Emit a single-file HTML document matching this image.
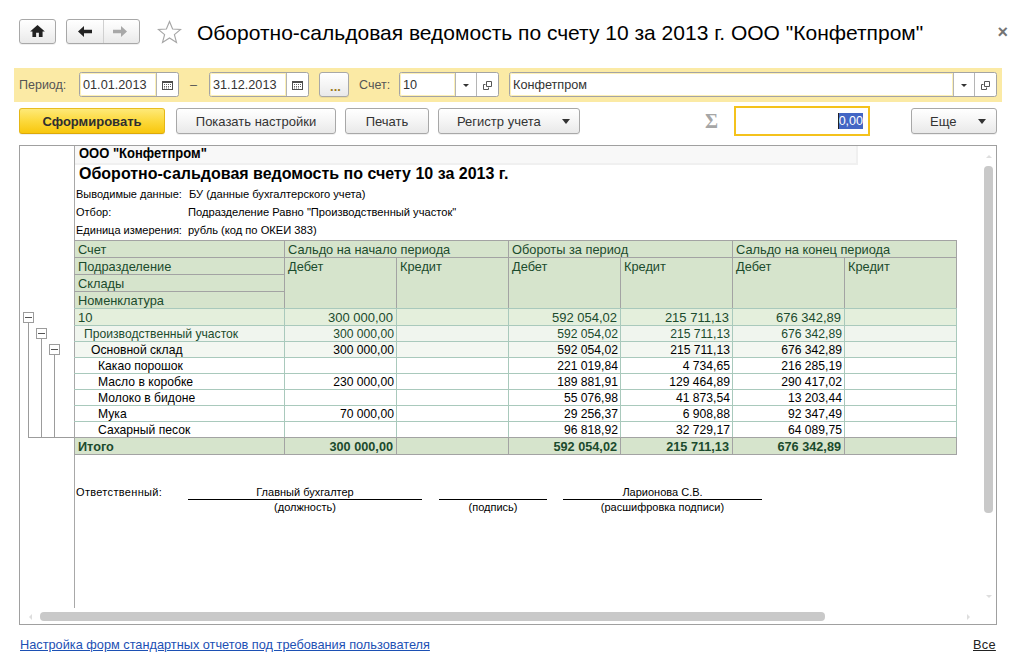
<!DOCTYPE html>
<html lang="ru">
<head>
<meta charset="utf-8">
<title>Оборотно-сальдовая ведомость по счету 10</title>
<style>
*{box-sizing:border-box;margin:0;padding:0}
html,body{width:1024px;height:668px;background:#fff;overflow:hidden}
body{font-family:"Liberation Sans",sans-serif;font-size:12px;color:#000;position:relative}
.abs{position:absolute}
.btn{position:absolute;top:108px;height:26px;border:1px solid #a8a8a8;border-radius:3px;
 background:linear-gradient(#ffffff,#f5f5f5 50%,#e9e9e9);font-size:13px;color:#333;
 text-align:center;line-height:24px;padding-top:1px;white-space:nowrap;box-shadow:0 1px 0 rgba(0,0,0,.06)}
.nav{top:19px;height:25px;line-height:23px}
.inp{position:absolute;top:72px;height:25px;border:1px solid #a4a4a4;border-radius:2.5px;background:#fff;
 font-size:12.7px;color:#333;line-height:24px;padding-left:3px;white-space:nowrap}
.inp .ti{position:absolute;left:0;top:0;bottom:0;box-shadow:inset 0 0 0 1px #fdf0b4;border-radius:2px 0 0 2px}
.inp .sep{position:absolute;top:0;bottom:0;width:1px;background:#b5b5b5}
.lbl{position:absolute;font-size:12.5px;color:#555;white-space:nowrap}
.tri{position:absolute;width:0;height:0;border-left:4px solid transparent;border-right:4px solid transparent;border-top:5px solid #333}
.tris{position:absolute;width:0;height:0;border-left:3px solid transparent;border-right:3px solid transparent;border-top:3px solid #333}
.org{font-size:13px;font-weight:bold;line-height:17px;white-space:nowrap;color:#000;transform:scaleY(1.14);transform-origin:0 100%}
.rtitle{font-size:16px;font-weight:bold;line-height:20px;white-space:nowrap;color:#000}
.info{font-size:11px;line-height:14px;white-space:nowrap;color:#000}
.hd{font-size:12.8px;line-height:15px;white-space:nowrap;color:#1b4b2d}
.r1{font-size:13px;line-height:16px;white-space:nowrap;color:#1b4b2d}
.r2{font-size:12.15px;line-height:15px;white-space:nowrap;color:#1b4b2d}
.r3{font-size:12.15px;line-height:15px;white-space:nowrap;color:#000}
.tot{font-size:12.7px;font-weight:bold;line-height:16px;white-space:nowrap;color:#1b4b2d}
</style>
</head>
<body>

<!-- navigation buttons -->
<div class="btn nav" style="left:19px;width:37px">
 <svg class="abs" style="left:10px;top:5px" width="15" height="12" viewBox="0 0 16 13"><path d="M8 0 L0 7 H2.5 V13 H6.5 V8.5 H9.5 V13 H13.5 V7 H16 Z" fill="#222"/></svg>
</div>
<div class="btn nav" style="left:66px;width:74px">
 <div class="abs" style="left:36px;top:0;bottom:0;width:1px;background:#d0d0d0"></div>
 <svg class="abs" style="left:11px;top:6px" width="14" height="11" viewBox="0 0 14 11"><path d="M6 0 L0 5.5 L6 11 V7.2 H14 V3.8 H6 Z" fill="#222"/></svg>
 <svg class="abs" style="left:46px;top:6px" width="14" height="11" viewBox="0 0 14 11"><path d="M8 0 L14 5.5 L8 11 V7.2 H0 V3.8 H8 Z" fill="#a8a8a8"/></svg>
</div>
<svg class="abs" style="left:157px;top:20px" width="25" height="24" viewBox="0 0 25 24"><path d="M12.5 1.5 L15.6 9 L23.6 9.5 L17.4 14.6 L19.5 22.4 L12.5 18 L5.5 22.4 L7.6 14.6 L1.4 9.5 L9.4 9 Z" fill="#fff" stroke="#a6a6a6" stroke-width="1.15" stroke-linejoin="miter"/></svg>
<div id="title" class="abs" style="left:197px;top:20px;font-size:21px;line-height:26px;white-space:nowrap;color:#000">Оборотно-сальдовая ведомость по счету 10 за 2013 г. ООО "Конфетпром"</div>
<div id="close" class="abs" style="left:997.5px;top:22px;font-size:18px;font-weight:bold;line-height:20px;color:#747474">×</div>

<!-- yellow filter band -->
<div class="abs" style="left:14px;top:68px;width:988px;height:34px;background:#fbeaa5"></div>
<div class="lbl" id="lper" style="left:19px;top:78px">Период:</div>
<div class="inp" style="left:79px;width:100px"><div class="ti" style="width:76px"></div><span id="d1">01.01.2013</span><div class="sep" style="left:76px"></div>
 <svg class="abs" style="left:82px;top:8px" width="11" height="9" viewBox="0 0 11 9"><rect x=".5" y=".5" width="10" height="8" fill="#fff" stroke="#4d4d4d"/><path d="M0 1h11" stroke="#4d4d4d" stroke-width="2"/><path d="M2 3.5h7M2 5.5h7M2 7h5" stroke="#666" stroke-width="1" stroke-dasharray="1 1"/></svg>
</div>
<div class="lbl" style="left:190px;top:78px">–</div>
<div class="inp" style="left:209px;width:100px"><div class="ti" style="width:76px"></div>31.12.2013<div class="sep" style="left:76px"></div>
 <svg class="abs" style="left:82px;top:8px" width="11" height="9" viewBox="0 0 11 9"><rect x=".5" y=".5" width="10" height="8" fill="#fff" stroke="#4d4d4d"/><path d="M0 1h11" stroke="#4d4d4d" stroke-width="2"/><path d="M2 3.5h7M2 5.5h7M2 7h5" stroke="#666" stroke-width="1" stroke-dasharray="1 1"/></svg>
</div>
<div class="btn" style="left:319px;top:72px;width:30px;height:25px;line-height:26px;color:#9c7a1a;font-weight:bold;padding-left:3px">...</div>
<div class="lbl" id="lacc" style="left:359px;top:78px">Счет:</div>
<div class="inp" style="left:399px;width:100px"><div class="ti" style="width:55px"></div>10<div class="sep" style="left:55px"></div><div class="sep" style="left:76px"></div>
 <div class="tris" style="left:63px;top:11px"></div>
 <svg class="abs" style="left:83px;top:8px" width="9" height="9" viewBox="0 0 9 9"><path d="M3.5 .5h5v5h-5z" fill="#fff" stroke="#555"/><path d="M2.5 3.5H.5V8.5H5.5V6.5" fill="none" stroke="#555"/></svg>
</div>
<div class="inp" style="left:509px;width:488px"><div class="ti" style="width:443px"></div>Конфетпром<div class="sep" style="left:443px"></div><div class="sep" style="left:464px"></div>
 <div class="tris" style="left:451px;top:11px"></div>
 <svg class="abs" style="left:471px;top:8px" width="9" height="9" viewBox="0 0 9 9"><path d="M3.5 .5h5v5h-5z" fill="#fff" stroke="#555"/><path d="M2.5 3.5H.5V8.5H5.5V6.5" fill="none" stroke="#555"/></svg>
</div>

<!-- command bar -->
<div class="btn" style="left:19px;width:146px;background:linear-gradient(#fee978,#fcd93c 50%,#f8c70d);border-color:#e8bd22 #e5b715 #dca90a;color:#2e2e30;font-weight:bold;font-size:13px;line-height:24px"><span id="sf">Сформировать</span></div>
<div class="btn" style="left:176px;width:160px">Показать настройки</div>
<div class="btn" style="left:345px;width:84px">Печать</div>
<div class="btn" style="left:438px;width:142px;text-align:left;padding-left:18px">Регистр учета<div class="tri" style="left:123px;top:10px"></div></div>
<div class="abs" style="left:705px;top:108px;font-family:'Liberation Serif',serif;font-size:20px;line-height:26px;color:#a6a6a6;font-weight:bold">Σ</div>
<div class="abs" style="left:734px;top:106px;width:136px;height:30px;border:2px solid #f4c21c;background:#fff"></div>
<div class="abs" style="left:838px;top:113px;width:25px;height:16px;background:#4366c4;color:#fff;font-size:12.5px;line-height:16px;text-align:right"><div class="abs" style="left:0;top:0;width:1px;height:16px;background:#222"></div>0,00</div>
<div class="btn" style="left:911px;width:86px;text-align:left;padding-left:18px">Еще<div class="tri" style="left:66px;top:10px"></div></div>

<!-- REPORT -->
<div id="report" class="abs" style="left:19px;top:145px;width:978px;height:480px;border:1px solid #a0a0a0;background:#fff"></div>

<!-- REPORT-CONTENT-START -->
<div class="abs" style="left:74px;top:146px;width:1px;height:462px;background:#a8a8a8"></div>
<div class="abs" style="left:75px;top:146px;width:783px;height:19px;background:#f8f8f8;border-right:2px solid #f0f0f0;border-bottom:2px solid #f0f0f0"></div>
<div class="abs org" style="left:79px;top:146px;">ООО "Конфетпром"</div>
<div class="abs rtitle" style="left:79px;top:164px;">Оборотно-сальдовая ведомость по счету 10 за 2013 г.</div>
<div class="abs info" style="left:76px;top:187px;">Выводимые данные:</div>
<div class="abs info" style="left:189px;top:187px;font-size:11.15px">БУ (данные бухгалтерского учета)</div>
<div class="abs info" style="left:76px;top:205px;">Отбор:</div>
<div class="abs info" style="left:188px;top:205px;font-size:11.15px">Подразделение Равно "Производственный участок"</div>
<div class="abs info" style="left:76px;top:223px;">Единица измерения:</div>
<div class="abs info" style="left:188px;top:223px;font-size:11.15px">рубль (код по ОКЕИ 383)</div>
<div class="abs" style="left:75px;top:241px;width:881px;height:67px;background:#d6e4cc"></div>
<div class="abs" style="left:75px;top:309px;width:881px;height:16px;background:#e4efdc"></div>
<div class="abs" style="left:75px;top:326px;width:881px;height:15px;background:#f0f5ee"></div>
<div class="abs" style="left:75px;top:342px;width:881px;height:15px;background:#f3f7f1"></div>
<div class="abs" style="left:75px;top:438px;width:881px;height:16px;background:#d6e4cc"></div>
<div class="abs" style="left:74px;top:240px;width:883px;height:1px;background:#a3a3a3"></div>
<div class="abs" style="left:74px;top:257px;width:211px;height:1px;background:#a3a3a3"></div>
<div class="abs" style="left:74px;top:274px;width:211px;height:1px;background:#a3a3a3"></div>
<div class="abs" style="left:74px;top:291px;width:211px;height:1px;background:#a3a3a3"></div>
<div class="abs" style="left:284px;top:257px;width:673px;height:1px;background:#a3a3a3"></div>
<div class="abs" style="left:74px;top:308px;width:883px;height:1px;background:#a9c9bc"></div>
<div class="abs" style="left:74px;top:325px;width:883px;height:1px;background:#a9c9bc"></div>
<div class="abs" style="left:74px;top:341px;width:883px;height:1px;background:#a9c9bc"></div>
<div class="abs" style="left:74px;top:357px;width:883px;height:1px;background:#a9c9bc"></div>
<div class="abs" style="left:74px;top:373px;width:883px;height:1px;background:#a9c9bc"></div>
<div class="abs" style="left:74px;top:389px;width:883px;height:1px;background:#a9c9bc"></div>
<div class="abs" style="left:74px;top:405px;width:883px;height:1px;background:#a9c9bc"></div>
<div class="abs" style="left:74px;top:421px;width:883px;height:1px;background:#a9c9bc"></div>
<div class="abs" style="left:74px;top:437px;width:883px;height:1px;background:#a3a3a3"></div>
<div class="abs" style="left:74px;top:454px;width:883px;height:1px;background:#a3a3a3"></div>
<div class="abs" style="left:284px;top:240px;width:1px;height:68px;background:#a3a3a3"></div>
<div class="abs" style="left:284px;top:309px;width:1px;height:128px;background:#a9c9bc"></div>
<div class="abs" style="left:284px;top:437px;width:1px;height:18px;background:#a3a3a3"></div>
<div class="abs" style="left:396px;top:257px;width:1px;height:51px;background:#a3a3a3"></div>
<div class="abs" style="left:396px;top:309px;width:1px;height:128px;background:#a9c9bc"></div>
<div class="abs" style="left:396px;top:437px;width:1px;height:18px;background:#a3a3a3"></div>
<div class="abs" style="left:508px;top:240px;width:1px;height:68px;background:#a3a3a3"></div>
<div class="abs" style="left:508px;top:309px;width:1px;height:128px;background:#a9c9bc"></div>
<div class="abs" style="left:508px;top:437px;width:1px;height:18px;background:#a3a3a3"></div>
<div class="abs" style="left:620px;top:257px;width:1px;height:51px;background:#a3a3a3"></div>
<div class="abs" style="left:620px;top:309px;width:1px;height:128px;background:#a9c9bc"></div>
<div class="abs" style="left:620px;top:437px;width:1px;height:18px;background:#a3a3a3"></div>
<div class="abs" style="left:732px;top:240px;width:1px;height:68px;background:#a3a3a3"></div>
<div class="abs" style="left:732px;top:309px;width:1px;height:128px;background:#a9c9bc"></div>
<div class="abs" style="left:732px;top:437px;width:1px;height:18px;background:#a3a3a3"></div>
<div class="abs" style="left:844px;top:257px;width:1px;height:51px;background:#a3a3a3"></div>
<div class="abs" style="left:844px;top:309px;width:1px;height:128px;background:#a9c9bc"></div>
<div class="abs" style="left:844px;top:437px;width:1px;height:18px;background:#a3a3a3"></div>
<div class="abs" style="left:956px;top:240px;width:1px;height:68px;background:#a3a3a3"></div>
<div class="abs" style="left:956px;top:309px;width:1px;height:128px;background:#a9c9bc"></div>
<div class="abs" style="left:956px;top:437px;width:1px;height:18px;background:#a3a3a3"></div>
<div class="abs" style="left:74px;top:437px;width:1px;height:18px;background:#a3a3a3"></div>
<div class="abs hd" style="left:78px;top:242px;">Счет</div>
<div class="abs hd" style="left:78px;top:259px;">Подразделение</div>
<div class="abs hd" style="left:78px;top:276px;">Склады</div>
<div class="abs hd" style="left:78px;top:293px;">Номенклатура</div>
<div class="abs hd" style="left:288px;top:242px;">Сальдо на начало периода</div>
<div class="abs hd" style="left:512px;top:242px;">Обороты за период</div>
<div class="abs hd" style="left:736px;top:242px;">Сальдо на конец периода</div>
<div class="abs hd" style="left:288px;top:259px;">Дебет</div>
<div class="abs hd" style="left:400px;top:259px;">Кредит</div>
<div class="abs hd" style="left:512px;top:259px;">Дебет</div>
<div class="abs hd" style="left:624px;top:259px;">Кредит</div>
<div class="abs hd" style="left:736px;top:259px;">Дебет</div>
<div class="abs hd" style="left:848px;top:259px;">Кредит</div>
<div class="abs r1" style="left:78px;top:310px;">10</div>
<div class="abs r1" style="right:631px;top:310px;">300 000,00</div>
<div class="abs r1" style="right:407px;top:310px;">592 054,02</div>
<div class="abs r1" style="right:295px;top:310px;">215 711,13</div>
<div class="abs r1" style="right:183px;top:310px;">676 342,89</div>
<div class="abs r2" style="left:84px;top:327px;">Производственный участок</div>
<div class="abs r2" style="right:630px;top:327px;">300 000,00</div>
<div class="abs r2" style="right:406px;top:327px;">592 054,02</div>
<div class="abs r2" style="right:294px;top:327px;">215 711,13</div>
<div class="abs r2" style="right:182px;top:327px;">676 342,89</div>
<div class="abs r3" style="left:91px;top:343px;">Основной склад</div>
<div class="abs r3" style="right:630px;top:343px;">300 000,00</div>
<div class="abs r3" style="right:406px;top:343px;">592 054,02</div>
<div class="abs r3" style="right:294px;top:343px;">215 711,13</div>
<div class="abs r3" style="right:182px;top:343px;">676 342,89</div>
<div class="abs r3" style="left:98px;top:359px;">Какао порошок</div>
<div class="abs r3" style="right:406px;top:359px;">221 019,84</div>
<div class="abs r3" style="right:294px;top:359px;">4 734,65</div>
<div class="abs r3" style="right:182px;top:359px;">216 285,19</div>
<div class="abs r3" style="left:98px;top:375px;">Масло в коробке</div>
<div class="abs r3" style="right:630px;top:375px;">230 000,00</div>
<div class="abs r3" style="right:406px;top:375px;">189 881,91</div>
<div class="abs r3" style="right:294px;top:375px;">129 464,89</div>
<div class="abs r3" style="right:182px;top:375px;">290 417,02</div>
<div class="abs r3" style="left:98px;top:391px;">Молоко в бидоне</div>
<div class="abs r3" style="right:406px;top:391px;">55 076,98</div>
<div class="abs r3" style="right:294px;top:391px;">41 873,54</div>
<div class="abs r3" style="right:182px;top:391px;">13 203,44</div>
<div class="abs r3" style="left:98px;top:407px;">Мука</div>
<div class="abs r3" style="right:630px;top:407px;">70 000,00</div>
<div class="abs r3" style="right:406px;top:407px;">29 256,37</div>
<div class="abs r3" style="right:294px;top:407px;">6 908,88</div>
<div class="abs r3" style="right:182px;top:407px;">92 347,49</div>
<div class="abs r3" style="left:98px;top:423px;">Сахарный песок</div>
<div class="abs r3" style="right:406px;top:423px;">96 818,92</div>
<div class="abs r3" style="right:294px;top:423px;">32 729,17</div>
<div class="abs r3" style="right:182px;top:423px;">64 089,75</div>
<div class="abs tot" style="left:78px;top:439px;">Итого</div>
<div class="abs tot" style="right:631px;top:439px;">300 000,00</div>
<div class="abs tot" style="right:407px;top:439px;">592 054,02</div>
<div class="abs tot" style="right:295px;top:439px;">215 711,13</div>
<div class="abs tot" style="right:183px;top:439px;">676 342,89</div>
<div class="abs" style="left:28px;top:322px;width:1px;height:116px;background:#9c9c9c"></div>
<div class="abs" style="left:23px;top:312px;width:11px;height:11px;border:1px solid #9c9c9c;background:#fff"><div class="abs" style="left:1px;top:4px;width:7px;height:1px;background:#555"></div></div>
<div class="abs" style="left:41px;top:338px;width:1px;height:100px;background:#9c9c9c"></div>
<div class="abs" style="left:36px;top:328px;width:11px;height:11px;border:1px solid #9c9c9c;background:#fff"><div class="abs" style="left:1px;top:4px;width:7px;height:1px;background:#555"></div></div>
<div class="abs" style="left:54px;top:354px;width:1px;height:84px;background:#9c9c9c"></div>
<div class="abs" style="left:49px;top:344px;width:11px;height:11px;border:1px solid #9c9c9c;background:#fff"><div class="abs" style="left:1px;top:4px;width:7px;height:1px;background:#555"></div></div>
<div class="abs" style="left:28px;top:437px;width:46px;height:1px;background:#9c9c9c"></div>
<div class="abs info" style="left:76px;top:485px;letter-spacing:.32px">Ответственный:</div>
<div class="abs" style="left:188px;top:499px;width:234px;height:1px;background:#000"></div>
<div class="abs info" style="left:188px;width:234px;top:485px;text-align:center">Главный бухгалтер</div>
<div class="abs info" style="left:188px;width:234px;top:500px;text-align:center">(должность)</div>
<div class="abs" style="left:439px;top:499px;width:108px;height:1px;background:#000"></div>
<div class="abs info" style="left:439px;width:108px;top:500px;text-align:center">(подпись)</div>
<div class="abs" style="left:563px;top:499px;width:199px;height:1px;background:#000"></div>
<div class="abs info" style="left:563px;width:199px;top:485px;text-align:center">Ларионова С.В.</div>
<div class="abs info" style="left:563px;width:199px;top:500px;text-align:center">(расшифровка подписи)</div>
<div class="abs" style="left:984px;top:166px;width:9px;height:347px;background:#c9c9c9;border-radius:4px"></div>
<div class="abs" style="left:40px;top:612px;width:785px;height:9px;background:#c9c9c9;border-radius:4px"></div>
<div class="abs" style="left:986px;top:155px;border-left:3px solid transparent;border-right:3px solid transparent;border-bottom:3px solid #dedede;width:0;height:0"></div>
<div class="abs" style="left:986px;top:595px;border-left:3px solid transparent;border-right:3px solid transparent;border-top:3px solid #dedede;width:0;height:0"></div>
<div class="abs" style="left:29px;top:614px;border-top:3px solid transparent;border-bottom:3px solid transparent;border-right:3px solid #dedede;width:0;height:0"></div>
<div class="abs" style="left:967px;top:614px;border-top:3px solid transparent;border-bottom:3px solid transparent;border-left:3px solid #dedede;width:0;height:0"></div>
<!-- REPORT-CONTENT-END -->

<!-- footer links -->
<div class="abs" id="flink" style="left:20px;top:637px;font-size:12.75px;line-height:16px;color:#1c50b4;text-decoration:underline;white-space:nowrap">Настройка форм стандартных отчетов под требования пользователя</div>
<div class="abs" id="fall" style="left:973px;top:637px;font-size:12.75px;line-height:16px;color:#222;text-decoration:underline;letter-spacing:.3px">Все</div>

</body>
</html>
